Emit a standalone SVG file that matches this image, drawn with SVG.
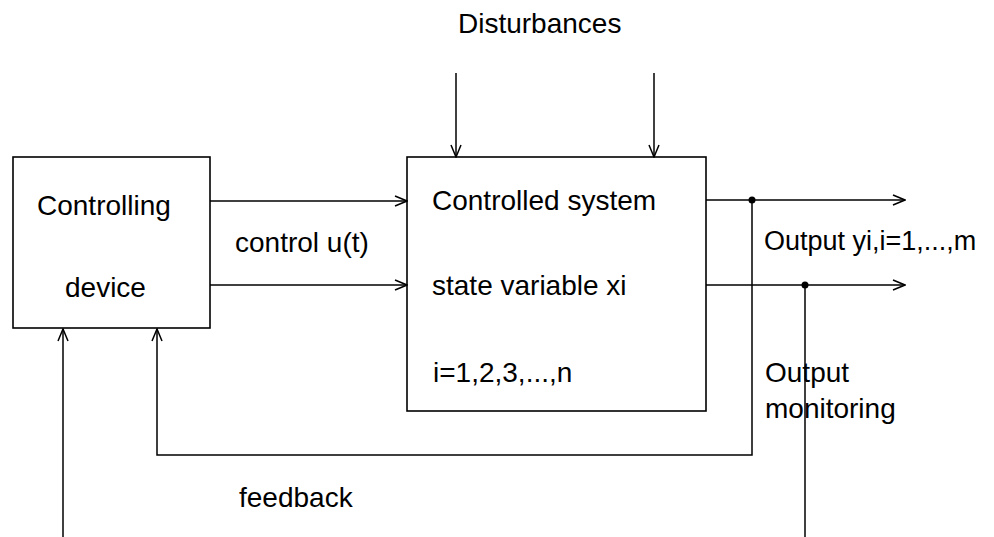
<svg xmlns="http://www.w3.org/2000/svg" width="994" height="537" viewBox="0 0 994 537">
<defs>
<style>
.box{fill:#fff;stroke:#000;stroke-width:1.6}
.ln{fill:none;stroke:#000;stroke-width:1.5}
.ar{marker-end:url(#arr)}
text{font-family:"Liberation Sans",Arial,sans-serif;font-size:28px;fill:#000}
</style>
<marker id="arr" viewBox="0 0 14 12" refX="13" refY="6" markerWidth="14" markerHeight="12" markerUnits="userSpaceOnUse" orient="auto">
<path d="M1,1 L13,6 L1,11" fill="none" stroke="#000" stroke-width="1.5"/>
</marker>
</defs>
<rect width="994" height="537" fill="#fff"/>
<g id="controlling-device">
<rect class="box" x="13" y="157" width="197" height="171"/>
<text x="37" y="215">Controlling</text>
<text x="65" y="297">device</text>
</g>
<g id="controlled-system">
<rect class="box" x="407" y="157" width="299" height="254"/>
<text x="432" y="210">Controlled system</text>
<text x="432" y="295">state variable xi</text>
<text x="433" y="382">i=1,2,3,...,n</text>
</g>
<g id="labels">
<text x="458" y="33">Disturbances</text>
<text x="235" y="252">control u(t)</text>
<text x="764" y="250" style="font-size:27px">Output yi,i=1,...,m</text>
<text x="765" y="382">Output</text>
<text x="765" y="418">monitoring</text>
<text x="239" y="507">feedback</text>
</g>
<g id="connectors">
<line class="ln ar" x1="456" y1="73" x2="456" y2="157"/>
<line class="ln ar" x1="654" y1="73" x2="654" y2="157"/>
<line class="ln ar" x1="210" y1="201" x2="407" y2="201"/>
<line class="ln ar" x1="210" y1="285" x2="407" y2="285"/>
<line class="ln ar" x1="706" y1="200" x2="905" y2="200"/>
<line class="ln ar" x1="706" y1="285" x2="905" y2="285"/>
<polyline class="ln ar" points="752,200 752,455 157,455 157,329"/>
<line class="ln" x1="805" y1="285" x2="805" y2="537"/>
<line class="ln ar" x1="63" y1="537" x2="63" y2="329"/>
<circle cx="752" cy="200" r="3.5" fill="#000"/>
<circle cx="805" cy="285" r="3.5" fill="#000"/>
</g>
</svg>
